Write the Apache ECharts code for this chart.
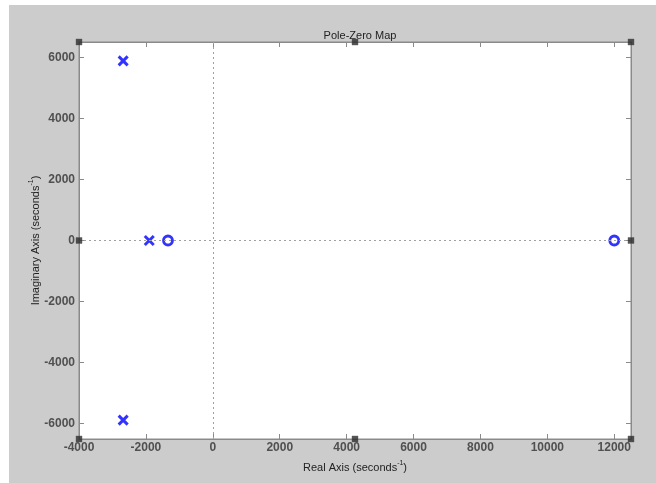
<!DOCTYPE html>
<html>
<head>
<meta charset="utf-8">
<script src="https://cdn.jsdelivr.net/npm/echarts@6/dist/echarts.min.js"></script>
<style>
html,body{margin:0;padding:0;background:#ffffff;}
#c{width:656px;height:483px;}
</style>
</head>
<body>
<div id="c"></div>
<script>
// Data
const poleRe = [-2680, -2680, -1900];
const poleIm = [5880, -5880, 0];
const zeroRe = [-1340, 12000];
const zeroIm = [0, 0];
const xTicks = [-4000, -2000, 0, 2000, 4000, 6000, 8000, 10000, 12000];
const yTicks = [-6000, -4000, -2000, 0, 2000, 4000, 6000];
const xRange = [-4000, 12500];
const yRange = [-6500, 6500];

const poles = poleRe.map((r, i) => [r, poleIm[i]]);
const zeros = zeroRe.map((r, i) => [r, zeroIm[i]]);
const xMid = (xRange[0] + xRange[1]) / 2;
const yMid = (yRange[0] + yRange[1]) / 2;
const handles = [
  [xRange[0], yRange[1]], [xMid, yRange[1]], [xRange[1], yRange[1]],
  [xRange[0], yMid], [xRange[1], yMid],
  [xRange[0], yRange[0]], [xMid, yRange[0]], [xRange[1], yRange[0]]
];

const axisCol = '#8a8a8a';
const fam = 'Liberation Sans, Arial, sans-serif';
const labelStyle = {color: '#505050', fontSize: 12, fontWeight: 'bold', fontFamily: fam, formatter: v => String(v)};
const nameRich = {
  a: {fontSize: 11, color: '#222', fontFamily: fam, verticalAlign: 'bottom', lineHeight: 13},
  s: {fontSize: 7, color: '#222', fontFamily: fam, verticalAlign: 'top', lineHeight: 13}
};

const chart = echarts.init(document.getElementById('c'));
chart.setOption({
  backgroundColor: '#cccccc',
  animation: false,
  title: {
    text: 'Pole-Zero Map', left: 355, top: 25, textAlign: 'center',
    textStyle: {fontSize: 11, fontWeight: 'normal', color: '#222', fontFamily: fam}
  },
  graphic: [
    {type: 'rect', shape: {x: 0, y: 0, width: 656, height: 5}, style: {fill: '#fff'}, z: 100},
    {type: 'rect', shape: {x: 0, y: 0, width: 9, height: 483}, style: {fill: '#fff'}, z: 100}
  ],
  grid: {left: 79, top: 42, width: 552, height: 397, show: true, backgroundColor: '#ffffff', borderColor: axisCol, borderWidth: 1},
  xAxis: [{
    type: 'value', min: xRange[0], max: xRange[1], position: 'bottom',
    name: '{a|Real Axis (seconds}{s|-1}{a|)}', nameLocation: 'middle', nameGap: 21, nameMoveOverlap: false,
    nameTextStyle: {rich: nameRich},
    axisLine: {show: true, onZero: false, lineStyle: {color: axisCol}},
    axisTick: {show: true, inside: true, length: 5, lineStyle: {color: axisCol}, customValues: xTicks},
    axisLabel: Object.assign({margin: 3, customValues: xTicks}, labelStyle),
    splitLine: {show: false}
  }, {
    type: 'value', min: xRange[0], max: xRange[1], position: 'top',
    axisLine: {show: true, onZero: false, lineStyle: {color: axisCol}},
    axisTick: {show: true, inside: true, length: 5, lineStyle: {color: axisCol}, customValues: xTicks},
    axisLabel: {show: false},
    splitLine: {show: false}
  }],
  yAxis: [{
    type: 'value', min: yRange[0], max: yRange[1], position: 'left',
    name: '{a|Imaginary Axis (seconds}{s|-1}{a|)}', nameLocation: 'middle', nameGap: 38, nameRotate: 90, nameMoveOverlap: false,
    nameTextStyle: {rich: nameRich},
    axisLine: {show: true, onZero: false, lineStyle: {color: axisCol}},
    axisTick: {show: true, inside: true, length: 5, lineStyle: {color: axisCol}, customValues: yTicks},
    axisLabel: Object.assign({margin: 4, customValues: yTicks}, labelStyle),
    splitLine: {show: false}
  }, {
    type: 'value', min: yRange[0], max: yRange[1], position: 'right',
    axisLine: {show: true, onZero: false, lineStyle: {color: axisCol}},
    axisTick: {show: true, inside: true, length: 5, lineStyle: {color: axisCol}, customValues: yTicks},
    axisLabel: {show: false},
    splitLine: {show: false}
  }],
  series: [{
    type: 'line', data: [], symbol: 'none', silent: true,
    markLine: {
      silent: true, symbol: 'none', label: {show: false},
      lineStyle: {color: '#a0a0a0', type: [2, 3], width: 1},
      data: [{xAxis: 0}, {yAxis: 0}]
    }
  }, {
    name: 'Poles', type: 'scatter', data: poles,
    symbol: 'path://M0,0L10,10M10,0L0,10', symbolSize: 9,
    itemStyle: {color: 'none', borderColor: '#0000ff', borderWidth: 3}
  }, {
    name: 'Zeros', type: 'scatter', data: zeros,
    symbol: 'circle', symbolSize: 9,
    itemStyle: {color: '#ffffff', borderColor: '#0000ff', borderWidth: 2.8}
  }, {
    name: 'Handles', type: 'scatter', data: handles, clip: false, silent: true,
    symbol: 'rect', symbolSize: 6, z: 10,
    itemStyle: {color: '#2a2a2a', borderColor: '#555', borderWidth: 0.5}
  }]
});
</script>
</body>
</html>
